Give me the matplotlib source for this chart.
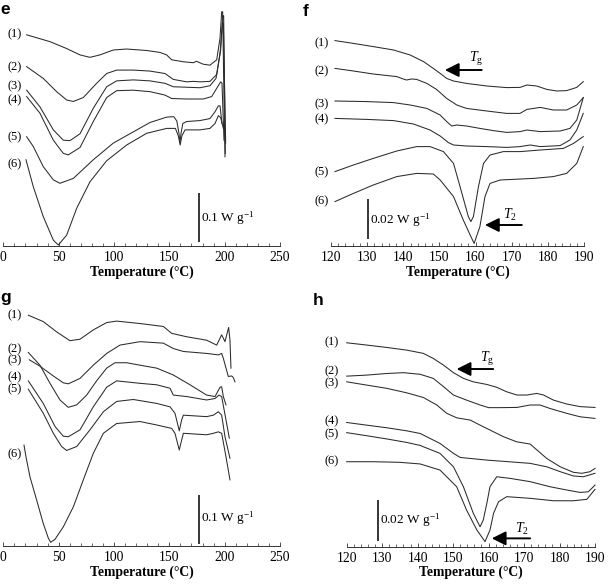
import matplotlib
matplotlib.use('Agg')
import matplotlib.pyplot as plt
from matplotlib.ticker import MultipleLocator

plt.rcParams['font.family'] = ['Liberation Serif', 'DejaVu Serif']
plt.rcParams['mathtext.fontset'] = 'custom'
plt.rcParams['mathtext.rm'] = 'Liberation Serif'
plt.rcParams['mathtext.it'] = 'Liberation Serif:italic'

# ---------------- panel e : full scan 0-250 C (heat flow in mW/g, offset) ----------------
e1_t = [21.1, 42.2, 57.2, 69.3, 78.3, 87.3, 99.4, 111.4, 129.5, 141.6, 147.6, 152.1, 162.7, 171.7,
        174.5, 177.5, 180.7, 186.7, 192.8, 195.8, 197.3, 198.2, 199.4, 200.3]
e1_hf = [431, 417, 403, 390, 385, 390, 400, 402, 399, 395, 390, 380, 376, 374,
         377, 374, 371, 369, 380, 424, 478, 478, 298, 182]
e2_t = [21.1, 36.1, 48.2, 57.2, 63.3, 72.3, 84.3, 93.4, 102.4, 117.5, 132.5, 146.1, 153.6, 165.7,
        171.7, 177.7, 186.7, 192.8, 196.4, 198.2, 199.1, 200.6]
e2_hf = [366, 342, 315, 298, 295, 303, 332, 352, 359, 359, 357, 352, 340, 335,
         336, 335, 336, 350, 400, 470, 470, 189]
e3_t = [21.1, 33.1, 45.2, 54.2, 60.2, 69.3, 81.3, 93.4, 102.4, 117.5, 132.5, 146.1, 153.6, 165.7,
        177.7, 186.7, 192.2, 195.8, 198.0, 198.8, 200.9]
e3_hf = [318, 284, 237, 216, 215, 229, 281, 325, 337, 339, 337, 332, 325, 324,
         323, 327, 342, 393, 455, 455, 210]
e4_t = [21.1, 33.1, 45.2, 54.2, 58.7, 69.3, 81.3, 93.4, 102.4, 117.5, 132.5, 146.1, 152.1, 165.7,
        180.7, 188.3, 193.4, 196.4, 197.6, 199.4]
e4_hf = [305, 271, 216, 189, 186, 201, 254, 303, 317, 318, 315, 308, 301, 300,
         300, 305, 324, 335, 332, 216]
e5_t = [21.1, 27.1, 36.1, 45.2, 51.2, 63.3, 81.3, 99.4, 117.5, 132.5, 147.6, 154.0, 156.8, 158.7,
        159.6, 160.6, 162.2, 165.7, 177.7, 186.7, 191.3, 194.3, 195.8, 197.6]
e5_hf = [223, 203, 162, 135, 128, 138, 176, 210, 233, 252, 263, 264, 255, 230,
         211, 230, 250, 254, 256, 260, 274, 286, 286, 250]
e6_t = [20.5, 27.1, 36.1, 45.2, 49.7, 57.2, 66.3, 78.3, 93.4, 111.4, 129.5, 147.6, 155.5, 158.1,
        159.8, 161.4, 164.2, 177.7, 186.7, 191.3, 194.3, 196.4, 198.8]
e6_hf = [176, 121, 60, 12, 2, 22, 77, 131, 174, 206, 230, 240, 240, 225,
         206, 225, 237, 237, 240, 250, 266, 262, 240]

# ---------------- panel f : zoom 120-190 C ----------------
f1_t = [121.1, 126.2, 131.7, 137.3, 141.9, 145.6, 148.3, 150.2, 152.0, 153.9, 157.5, 163.1, 168.6,
        172.3, 174.2, 176.9, 179.7, 182.5, 185.2, 188.0, 189.8]
f1_hf = [102.7, 101.3, 99.7, 98.0, 95.5, 92.2, 88.8, 86.3, 83.8, 82.5, 81.3, 80.0, 79.2,
         79.3, 80.5, 80.0, 78.3, 77.5, 77.7, 79.3, 82.2]
f2_t = [121.1, 126.2, 131.7, 138.2, 140.0, 140.9, 142.3, 143.7, 146.5, 149.2, 152.0, 154.8, 157.5,
        163.1, 168.6, 172.3, 174.2, 177.9, 181.5, 185.2, 188.0, 189.8]
f2_hf = [88.8, 87.5, 86.0, 84.7, 83.5, 83.0, 83.5, 83.3, 81.3, 78.3, 73.8, 70.5, 68.8,
         67.5, 66.3, 66.3, 68.3, 69.3, 68.0, 68.0, 70.5, 74.2]
f3_t = [121.1, 129.9, 137.3, 141.9, 146.5, 150.2, 152.0, 153.4, 154.8, 157.5, 161.2, 164.9, 168.6,
        172.3, 174.2, 177.9, 183.4, 186.1, 188.0, 189.8]
f3_hf = [72.5, 72.2, 71.7, 70.5, 68.8, 65.5, 62.2, 60.0, 60.5, 60.0, 58.8, 57.7, 56.8,
         57.2, 58.0, 57.2, 57.5, 58.8, 63.0, 74.2]
f4_t = [121.1, 129.9, 137.3, 142.8, 147.4, 150.2, 152.5, 153.9, 157.5, 163.1, 168.6, 172.3, 175.1,
        177.9, 183.4, 186.1, 188.0, 189.8]
f4_hf = [63.8, 63.3, 62.7, 61.0, 58.0, 55.0, 51.7, 50.5, 50.0, 49.7, 49.3, 49.7, 50.5,
         49.7, 50.2, 53.0, 58.0, 66.3]
f5_t = [121.1, 126.2, 131.7, 138.2, 143.7, 147.4, 151.1, 153.9, 155.7, 158.0, 158.7, 159.4, 160.8,
        162.2, 164.0, 167.7, 172.3, 177.9, 184.3, 187.1, 189.8]
f5_hf = [37.2, 40.5, 43.8, 47.5, 49.7, 49.7, 47.2, 41.3, 29.7, 14.7, 12.2, 14.7, 29.7,
         41.3, 45.5, 47.2, 47.2, 48.0, 48.8, 51.3, 54.7]
f6_t = [121.1, 126.2, 131.7, 138.2, 143.7, 148.3, 150.2, 153.9, 156.6, 158.5, 159.6, 161.2, 162.6,
        164.0, 166.8, 176.0, 181.5, 185.2, 188.0, 189.8]
f6_hf = [22.2, 26.3, 30.5, 34.7, 36.3, 36.0, 33.0, 24.7, 13.0, 5.5, 1.3, 9.7, 24.7,
         31.3, 33.0, 33.8, 34.7, 36.3, 41.3, 49.7]

# ---------------- panel g : full scan 0-250 C ----------------
g1_t = [22.6, 36.1, 48.2, 60.2, 69.3, 81.3, 93.4, 102.4, 123.5, 144.6, 152.1, 165.7, 183.7, 192.8,
        197.3, 200.3, 203.6, 204.8, 205.7]
g1_hf = [471, 458, 437, 419, 422, 441, 456, 459, 454, 448, 434, 427, 420, 410,
         431, 417, 446, 420, 363]
g2_t = [22.6, 33.1, 42.2, 51.2, 58.7, 66.3, 75.3, 84.3, 93.4, 100.9, 111.4, 123.5, 138.6, 153.6,
        168.7, 183.7, 191.3, 195.8, 197.3, 198.8, 201.2]
g2_hf = [395, 369, 332, 298, 283, 288, 308, 337, 363, 374, 374, 369, 363, 349,
         329, 308, 305, 324, 325, 305, 288]
g3_t = [23.5, 33.1, 45.2, 54.2, 58.7, 69.3, 81.3, 93.4, 105.4, 123.5, 144.6, 153.6, 162.7, 183.7,
        194.3, 197.3, 198.8, 203.3, 206.3, 207.8, 209.3]
g3_hf = [380, 367, 347, 333, 331, 342, 369, 393, 410, 417, 414, 403, 397, 393,
         390, 393, 383, 346, 347, 344, 335]
g4_t = [22.6, 36.1, 46.7, 54.2, 58.7, 69.3, 81.3, 93.4, 102.4, 123.5, 138.6, 150.6, 153.6, 165.7,
        183.7, 191.3, 194.9, 197.3, 201.8, 204.2]
g4_hf = [337, 291, 244, 224, 223, 237, 284, 324, 337, 332, 329, 322, 308, 305,
         298, 301, 308, 305, 250, 220]
g5_t = [22.6, 36.1, 45.2, 52.7, 57.2, 66.3, 78.3, 90.4, 102.4, 117.5, 138.6, 150.6, 155.1, 159.0,
        161.1, 162.7, 183.7, 189.8, 194.3, 197.3, 200.3, 204.8]
g5_hf = [320, 271, 230, 203, 195, 203, 237, 274, 295, 299, 291, 284, 271, 235,
         257, 267, 264, 267, 274, 267, 223, 179]
g6_t = [18.7, 20.5, 24.1, 30.1, 36.1, 40.7, 42.8, 46.7, 54.2, 63.3, 72.3, 81.3, 90.4, 102.4,
        123.5, 138.6, 152.1, 155.1, 159.0, 161.1, 162.7, 183.7, 189.8, 194.3, 197.3, 201.2, 204.8]
g6_hf = [206, 182, 141, 94, 46, 16, 7.5, 13.6, 39, 80, 135, 189, 230, 250,
         254, 247, 240, 230, 196, 216, 230, 227, 230, 233, 230, 182, 135]

# ---------------- panel h : zoom 120-190 C ----------------
h1_t = [120.0, 125.6, 131.3, 136.9, 141.6, 144.4, 147.3, 150.1, 152.9, 155.7, 159.5, 162.3, 165.1,
        168.0, 170.8, 173.6, 175.5, 178.3, 182.0, 185.8, 190.0]
h1_hf = [100.3, 99.2, 98.0, 96.7, 95.1, 92.6, 89.3, 85.6, 82.8, 81.1, 79.8, 78.4, 76.2,
         74.6, 74.6, 75.4, 74.6, 72.1, 70.2, 68.9, 68.5]
h2_t = [120.0, 125.6, 131.3, 136.0, 140.7, 144.4, 147.3, 150.1, 153.8, 157.6, 160.0, 163.2, 168.0,
        171.7, 174.5, 177.3, 182.0, 185.8, 190.0]
h2_hf = [83.9, 84.4, 85.2, 85.6, 84.8, 82.8, 78.7, 74.6, 72.1, 69.7, 68.4, 68.4, 68.5,
         69.7, 69.7, 68.0, 65.6, 63.9, 63.1]
h3_t = [120.0, 125.6, 131.3, 136.9, 141.6, 145.4, 148.2, 151.0, 154.8, 157.6, 164.2, 167.9, 171.7,
        176.4, 180.2, 183.9, 186.3, 188.6, 190.0]
h3_hf = [81.1, 79.5, 77.9, 75.7, 73.4, 69.7, 65.6, 63.4, 62.3, 59.8, 54.1, 51.6, 50.5,
         43.4, 39.3, 36.6, 36.1, 36.9, 38.5]
h4_t = [120.0, 125.6, 131.3, 136.9, 140.7, 146.3, 150.1, 152.0, 159.5, 171.7, 176.4, 180.2, 183.9,
        186.7, 190.0]
h4_hf = [61.1, 59.8, 58.5, 57.0, 55.7, 50.8, 45.9, 43.9, 42.6, 41.0, 39.3, 36.9, 34.8,
         34.4, 36.1]
h5_t = [120.0, 125.6, 131.3, 136.9, 140.7, 146.3, 150.1, 152.9, 155.7, 157.6, 158.5, 159.5, 160.4,
        162.3, 166.1, 171.7, 177.3, 182.0, 185.8, 188.1, 190.0]
h5_hf = [56.1, 54.6, 53.0, 51.3, 49.8, 45.9, 39.3, 29.5, 16.4, 9.8, 13.1, 21.3, 29.5,
         34.4, 33.6, 32.0, 29.5, 27.9, 26.7, 27.0, 30.3]
h6_t = [120.0, 127.5, 135.0, 140.7, 146.3, 151.0, 153.8, 156.7, 159.0, 160.4, 161.4, 162.8, 165.1,
        171.7, 178.3, 183.9, 187.7, 190.0]
h6_hf = [41.8, 41.8, 41.5, 40.7, 37.7, 29.5, 18.0, 8.2, 2.5, 8.2, 16.4, 22.1, 24.6,
         23.8, 22.6, 22.6, 23.3, 28.2]

curve_names = ['(1)', '(2)', '(3)', '(4)', '(5)', '(6)']

e_curves = [(e1_t, e1_hf), (e2_t, e2_hf), (e3_t, e3_hf), (e4_t, e4_hf), (e5_t, e5_hf), (e6_t, e6_hf)]
f_curves = [(f1_t, f1_hf), (f2_t, f2_hf), (f3_t, f3_hf), (f4_t, f4_hf), (f5_t, f5_hf), (f6_t, f6_hf)]
g_curves = [(g1_t, g1_hf), (g2_t, g2_hf), (g3_t, g3_hf), (g4_t, g4_hf), (g5_t, g5_hf), (g6_t, g6_hf)]
h_curves = [(h1_t, h1_hf), (h2_t, h2_hf), (h3_t, h3_hf), (h4_t, h4_hf), (h5_t, h5_hf), (h6_t, h6_hf)]

# where the (n) labels sit (temperature, heat flow)
e_lab_t, e_lab_hf = 10.6, [432, 365, 326, 297, 222, 167]
f_lab_t, f_lab_hf = 117.4, [101.3, 87.2, 71.0, 63.5, 36.7, 22.2]
g_lab_t, g_lab_hf = 10.6, [471, 401, 378, 344, 319, 188]
h_lab_t, h_lab_hf = 115.8, [100.4, 86.1, 80.4, 61.5, 55.4, 41.8]

W, H = 609, 587
fig = plt.figure(figsize=(W / 100, H / 100), dpi=100)


def add_ax(x0, x1, ybot, ytop):
    return fig.add_axes([x0 / W, 1 - ybot / H, (x1 - x0) / W, (ybot - ytop) / H])


def draw_panel(ax, curves, xlim, ylim, major, minor, lab_t, lab_hf, bar, bar_text):
    for t, hf in curves:
        ax.plot(t, hf, color='#2b2b2b', lw=0.75, clip_on=False)
    for name, y in zip(curve_names, lab_hf):
        ax.text(lab_t, y, name, ha='center', va='center', fontsize=9, clip_on=False)
    # scale bar
    bt, b0, b1 = bar
    ax.plot([bt, bt], [b0, b1], color='black', lw=1.1, solid_capstyle='butt')
    ax.text(bar_text[0], bar_text[1], bar_text[2], ha='left', va='center', fontsize=9.5)
    ax.set_xlim(*xlim)
    ax.set_ylim(*ylim)
    for s in ['left', 'right', 'top']:
        ax.spines[s].set_visible(False)
    ax.spines['bottom'].set_linewidth(0.7)
    ax.spines['bottom'].set_color('#333333')
    ax.set_yticks([])
    ax.xaxis.set_major_locator(MultipleLocator(major))
    ax.xaxis.set_minor_locator(MultipleLocator(minor))
    ax.tick_params(axis='x', which='major', direction='in', length=3, width=0.6,
                   labelsize=9.8, pad=3.5, color='#333333')
    ax.tick_params(axis='x', which='minor', direction='in', length=2, width=0.5, color='#333333')
    ax.set_xlabel('Temperature (°C)', fontsize=9.8, fontweight='bold', labelpad=1)
    ax.patch.set_alpha(0)


def arrow(ax, tail, head, label, label_pos):
    ax.annotate('', xy=head, xytext=tail,
                arrowprops=dict(arrowstyle='-|>,head_length=0.7,head_width=0.35',
                                lw=1.4, color='black', shrinkA=0, shrinkB=0, mutation_scale=12))
    ax.text(label_pos[0], label_pos[1], label, ha='center', va='center', fontsize=10)


ax_e = add_ax(3.3, 280, 246, 5)
draw_panel(ax_e, e_curves, (0, 250), (0, 241 * 100 / 49), 50, 10, e_lab_t, e_lab_hf,
           (177, 8, 108), (178.6, 57, r'0.1 W g$^{\mathregular{-1}}$'))

ax_f = add_ax(331, 584, 246, 5)
draw_panel(ax_f, f_curves, (120, 190), (0, 241 * 0.5), 10, 2, f_lab_t, f_lab_hf,
           (130.2, 3.3, 23.3), (130.8, 13, r'0.02 W g$^{\mathregular{-1}}$'))
arrow(ax_f, (161.7, 88), (151.5, 88), r'$T_{\mathregular{g}}$', (160.1, 93.5))
arrow(ax_f, (172.8, 10.5), (162.6, 10.5), r'$T_{\mathregular{2}}$', (169.5, 15.5))

ax_g = add_ax(3.3, 280, 546, 290)
draw_panel(ax_g, g_curves, (0, 250), (0, 256 * 100 / 49), 50, 10, g_lab_t, g_lab_hf,
           (176.8, 5, 105), (178.6, 57, r'0.1 W g$^{\mathregular{-1}}$'))

ax_h = add_ax(346.7, 595, 546.7, 295)
draw_panel(ax_h, h_curves, (120, 190), (0, 251.7 / 2.033), 10, 2, h_lab_t, h_lab_hf,
           (128.7, 3, 23), (129.4, 13.1, r'0.02 W g$^{\mathregular{-1}}$'))
arrow(ax_h, (161.3, 87.4), (151.0, 87.4), r'$T_{\mathregular{g}}$', (159.5, 92.5))
arrow(ax_h, (171.7, 4.1), (160.9, 4.1), r'$T_{\mathregular{2}}$', (169.3, 8.8))

# panel letters
for letter, x, y in [('e', 0, 14.5), ('f', 303, 16), ('g', 0, 302), ('h', 313, 305)]:
    fig.text(x / W, 1 - y / H, letter, fontsize=12.5, fontweight='bold',
             family='Liberation Sans', va='baseline', ha='left')

fig.savefig('out.png', dpi=100)
